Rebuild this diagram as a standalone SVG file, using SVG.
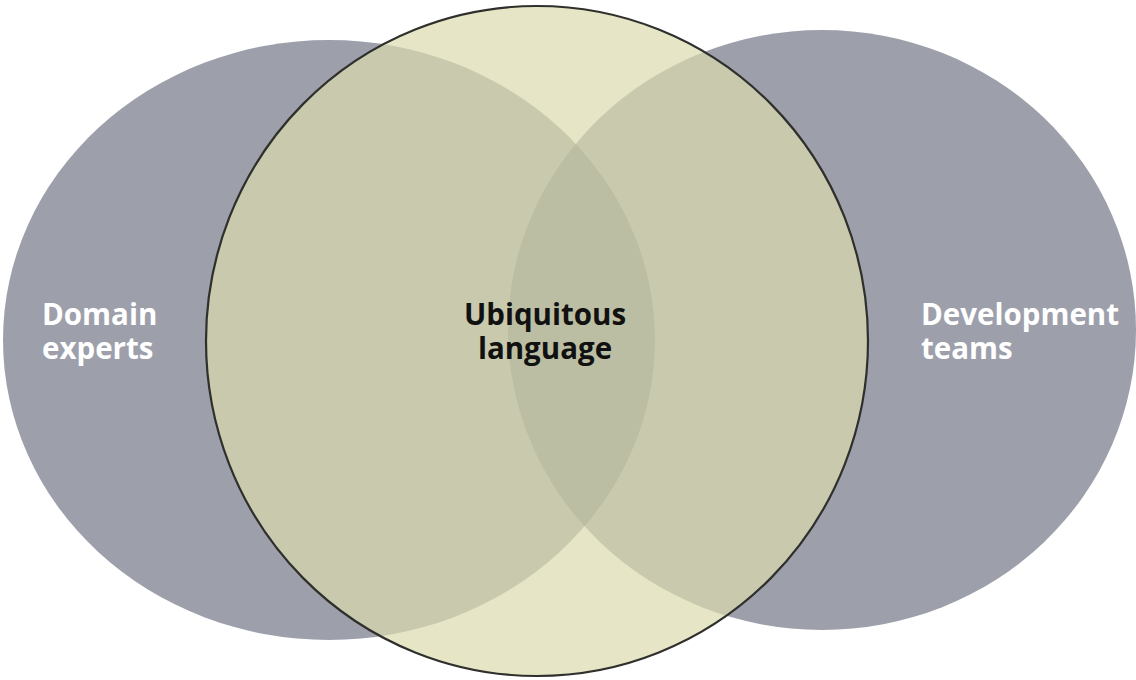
<svg xmlns="http://www.w3.org/2000/svg" width="1136" height="680" viewBox="0 0 1136 680">
<style>
.gray{fill:#9d9fab}
.lens{fill:#737b88}
.mid{fill:#dbdcaf;fill-opacity:0.7;stroke:#2f302c;stroke-width:2.2}
.lbl{font-family:"Open Sans","Noto Sans",sans-serif;font-weight:bold;font-size:29.5px}
.w{fill:#ffffff}
.k{fill:#111111}
</style>
<defs>
<clipPath id="clipLeft"><ellipse cx="329" cy="340" rx="326" ry="300"/></clipPath>
</defs>
<rect width="1136" height="680" fill="#ffffff"/>
<g id="domain-experts">
<ellipse class="gray" cx="329" cy="340" rx="326" ry="300"/>
</g>
<g id="development-teams">
<ellipse class="gray" cx="822" cy="330" rx="314" ry="300"/>
<ellipse class="lens" cx="822" cy="330" rx="314" ry="300" clip-path="url(#clipLeft)"/>
</g>
<g id="ubiquitous-language">
<ellipse class="mid" cx="537" cy="341" rx="331" ry="335"/>
</g>
<g id="labels">
<text class="lbl w"><tspan x="42" y="325">Domain</tspan><tspan x="42" y="359">experts</tspan></text>
<text class="lbl w"><tspan x="921" y="325">Development</tspan><tspan x="921" y="359">teams</tspan></text>
<text class="lbl k" text-anchor="middle"><tspan x="545" y="325">Ubiquitous</tspan><tspan x="545" y="359">language</tspan></text>
</g>
<g id="connectors"/>
</svg>
